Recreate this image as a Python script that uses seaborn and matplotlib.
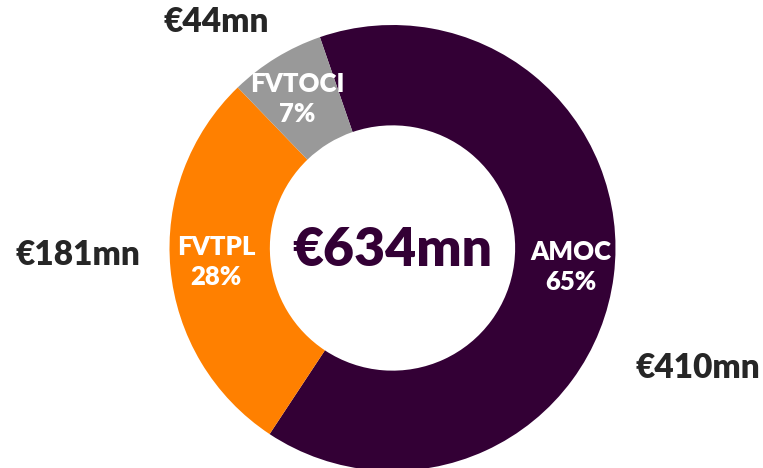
import matplotlib
matplotlib.use("Agg")
import matplotlib.pyplot as plt
import seaborn as sns

categories = ["AMOC", "FVTPL", "FVTOCI"]
values = [410, 181, 44]
pct_labels = ["65%", "28%", "7%"]
amount_labels = ["€410mn", "€181mn", "€44mn"]
total_label = "€634mn"
colors = ["#330035", "#FF8000", "#999999"]

sns.set_theme(style="white")
plt.rcParams['font.family'] = ['Lato', 'DejaVu Sans']

W, H = 763, 468
fig = plt.figure(figsize=(W / 100, H / 100), dpi=100)
ax = fig.add_axes([0, 0, 1, 1])

cx, cy, R = 392.5, H - 248, 223
ax.pie(values, colors=colors, startangle=109, counterclock=False,
       radius=R, center=(cx, cy), frame=True,
       wedgeprops=dict(width=R * 0.45, edgecolor="none", linewidth=0))
ax.set_xlim(0, W)
ax.set_ylim(0, H)
ax.set_aspect("equal")
ax.axis("off")

# in-slice labels (pixel positions, y from top)
inner_pos = [(571, 267), (216, 262), (297, 99)]
for cat, pct, (x, y) in zip(categories, pct_labels, inner_pos):
    ax.text(x, H - y, f"{cat}\n{pct}", ha="center", va="center",
            color="white", fontsize=18.5, fontweight="heavy", linespacing=1.3)

outer_pos = [(698, 368), (78, 255), (216, 22)]
for lab, (x, y) in zip(amount_labels, outer_pos):
    ax.text(x, H - y, lab, ha="center", va="center", color="#262626",
            fontsize=24, fontweight="heavy")

ax.text(cx, H - 250, total_label, ha="center", va="center", color="#330035",
        fontsize=38.5, fontweight="heavy")

fig.savefig("out.png", dpi=100)
